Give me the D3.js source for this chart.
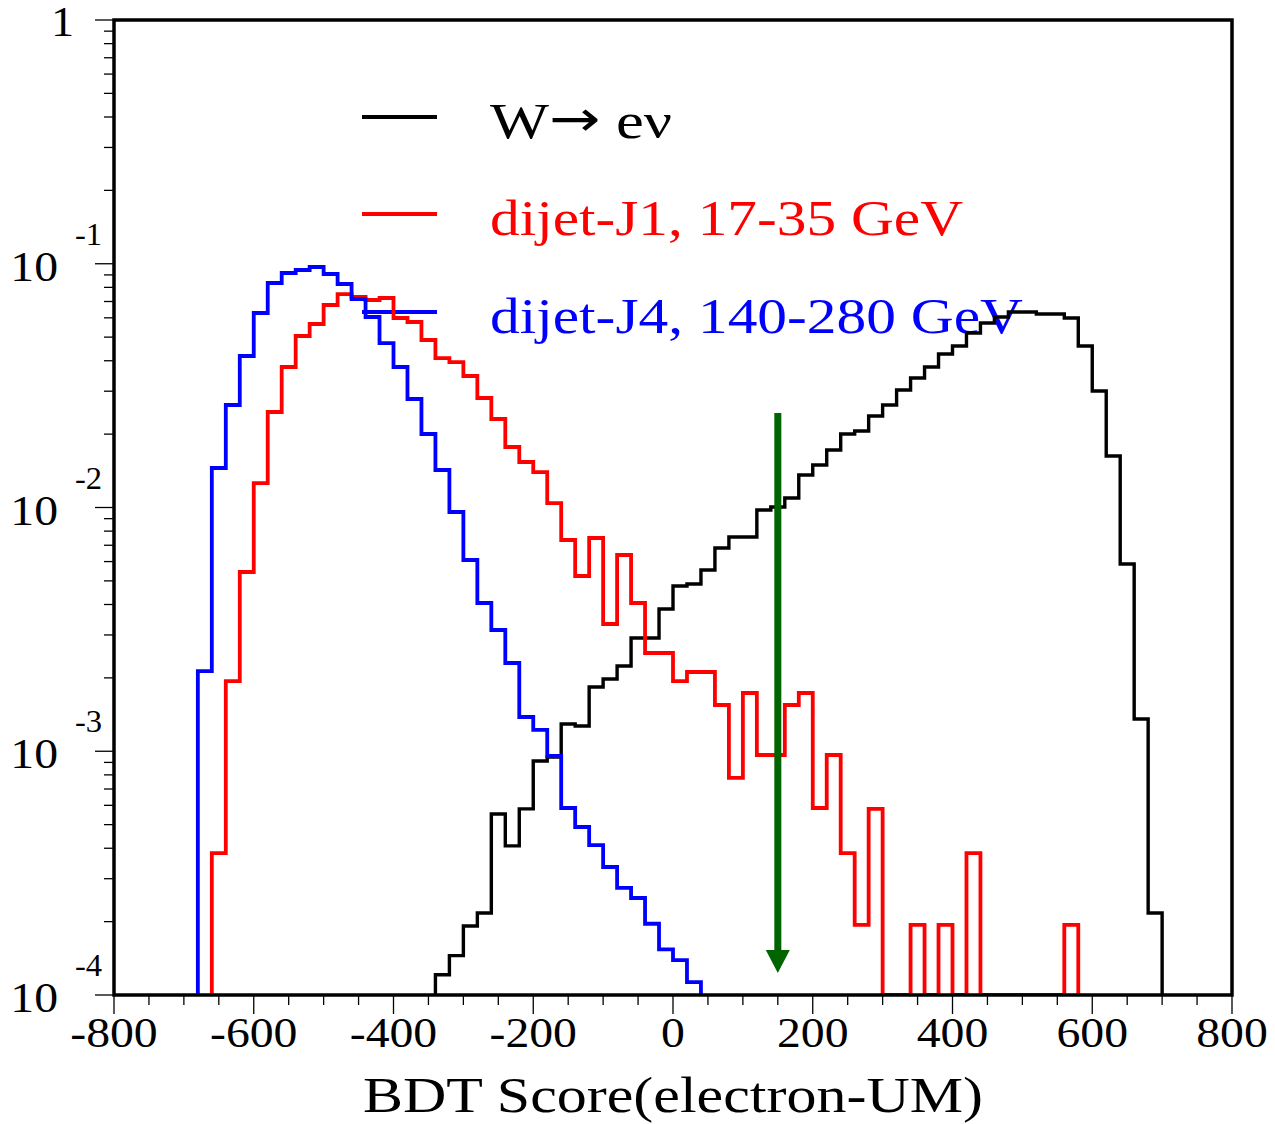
<!DOCTYPE html>
<html><head><meta charset="utf-8">
<script src="https://cdn.jsdelivr.net/npm/d3@7"></script>
<style>
body{margin:0;background:#fff}
svg{display:block}
text{font-family:"Liberation Serif","Times New Roman",serif}
</style>
</head><body>
<svg id="chart" width="1275" height="1124"></svg>
<script>
// ---------- data ----------
const binWidth = 20;

const wStart = -340;   // W -> e nu
const wValues = [0.000121,0.000145,0.000192,0.000217,0.000553,0.000409,0.000580,0.000912,0.000947,0.001294,
  0.001269,0.001835,0.001979,0.002237,0.002914,0.002914,0.003834,0.004763,0.004855,0.005540,
  0.006820,0.007568,0.007568,0.009766,0.01005,0.01094,0.01359,0.01494,0.01721,0.02002,
  0.02060,0.02373,0.02633,0.03034,0.03399,0.03771,0.04263,0.04599,0.05197,0.05714,
  0.06046,0.06340,0.06340,0.06221,0.06221,0.05990,0.04599,0.03005,0.01627,0.005864,
  0.001356,0.000217];

const j1Start = -660;  // dijet-J1
const j1Values = [0.000382,0.001941,0.005437,0.01260,0.02465,0.03771,0.05053,0.05660,0.06772,0.07510,
  0.07304,0.07100,0.07236,0.05990,0.05768,0.04866,0.04104,0.03952,0.03463,0.02813,
  0.02307,0.01771,0.01537,0.01398,0.01043,0.007356,0.005236,0.007497,0.003327,0.006385,
  0.004057,0.002530,0.002530,0.001941,0.002114,0.002114,0.001548,0.000777,0.001734,0.000965,
  0.000965,0.001548,0.001734,0.000585,0.000965,0.000382,0.000194,0.000580,0,0,
  0.000194,0,0.000194,0,0.000382,0,0,0,0,0,
  0,0.000194];

const j4Start = -680;  // dijet-J4
const j4Values = [0.002133,0.01452,0.02633,0.04183,0.06281,0.08337,0.09162,0.09428,0.09698,0.09076,
  0.08258,0.07166,0.06046,0.04729,0.03771,0.02787,0.02002,0.01425,0.009583,0.006090,
  0.004057,0.003144,0.002302,0.001382,0.001223,0.000956,0.000585,0.000489,0.000412,0.000335,
  0.000275,0.000250,0.000196,0.000154,0.000139,0.000113];

const xTicks = [-800,-600,-400,-200,0,200,400,600,800];
const xMinorStep = 50;
const yTickExponents = [0,-1,-2,-3,-4];
const seriesLabels = ["dijet-J1, 17-35 GeV", "dijet-J4, 140-280 GeV"];
const wLabelParts = ["W", "\u2192", " e\u03bd"];
const xTitle = "BDT Score(electron-UM)";
const cutValue = 150, arrowTopValue = 0.02442, arrowTipValue = 0.0001231;

// ---------- layout ----------
const svg = d3.select("#chart");
const L = 114, R = 1232, T = 20, B = 995;
const x = d3.scaleLinear().domain([-800, 800]).range([L, R]);
const y = d3.scaleLog().domain([1e-4, 1]).range([B, T]).clamp(true);
const yMin = 1e-4;

svg.append("defs").append("clipPath").attr("id", "plotClip")
  .append("rect").attr("x", L).attr("y", T).attr("width", R - L).attr("height", B - T);

function stretch(sel, f){
  sel.each(function(){
    const w = this.getComputedTextLength();
    d3.select(this).attr("textLength", w * f).attr("lengthAdjust", "spacingAndGlyphs");
  });
}

// legend
const lg = svg.append("g");
const legendLines = [
  {color: "#000000", ly: 117},
  {color: "#ff0000", ly: 214},
  {color: "#0000ff", ly: 312}
];
legendLines.forEach(r => {
  lg.append("line").attr("x1", 362).attr("x2", 437).attr("y1", r.ly).attr("y2", r.ly)
    .attr("stroke", r.color).attr("stroke-width", 4);
});
const wt = lg.append("text").attr("x", 490).attr("y", 138).attr("font-size", 51).attr("fill", "#000")
  .attr("textLength", 182).attr("lengthAdjust", "spacingAndGlyphs");
wt.append("tspan").text(wLabelParts[0]);
wt.append("tspan").attr("font-family", "DejaVu Sans").attr("font-size", 50).attr("dy", -2).text(wLabelParts[1]);
wt.append("tspan").attr("dy", 2).text(wLabelParts[2]);
lg.append("text").attr("x", 490).attr("y", 235).attr("font-size", 51).attr("fill", "#ff0000")
  .attr("textLength", 473).attr("lengthAdjust", "spacingAndGlyphs").text(seriesLabels[0]);
lg.append("text").attr("x", 490).attr("y", 333).attr("font-size", 51).attr("fill", "#0000ff")
  .attr("textLength", 533).attr("lengthAdjust", "spacingAndGlyphs").text(seriesLabels[1]);

// histograms
function stepPoints(start, values){
  const pts = [[start, yMin]];
  values.forEach((v, i) => {
    const x0 = start + i * binWidth;
    const vv = Math.max(v, yMin);
    pts.push([x0, vv]); pts.push([x0 + binWidth, vv]);
  });
  pts.push([start + values.length * binWidth, yMin]);
  return pts;
}
const line = d3.line().x(d => x(d[0])).y(d => y(d[1]));
const hists = [
  {start: wStart, values: wValues, color: "#000000", w: 3.4},
  {start: j1Start, values: j1Values, color: "#ff0000", w: 3.8},
  {start: j4Start, values: j4Values, color: "#0000ff", w: 3.8}
];
const hg = svg.append("g").attr("clip-path", "url(#plotClip)");
hists.forEach(h => {
  hg.append("path").attr("d", line(stepPoints(h.start, h.values)))
    .attr("fill", "none").attr("stroke", h.color).attr("stroke-width", h.w)
    .attr("stroke-linejoin", "miter");
});

// arrow
const ax = x(cutValue), aTop = y(arrowTopValue), aTip = y(arrowTipValue);
const headLen = 23, headHalf = 12;
svg.append("line").attr("x1", ax).attr("x2", ax).attr("y1", aTop).attr("y2", aTip - headLen + 2)
  .attr("stroke", "#006400").attr("stroke-width", 7);
svg.append("path")
  .attr("d", `M${ax - headHalf},${aTip - headLen} L${ax + headHalf},${aTip - headLen} L${ax},${aTip} Z`)
  .attr("fill", "#006400");

// x ticks
const xMinor = d3.range(-800, 800 + 1, xMinorStep).filter(v => !xTicks.includes(v));
svg.append("g").selectAll("line").data(xMinor).join("line")
  .attr("x1", d => x(d)).attr("x2", d => x(d)).attr("y1", B).attr("y2", B + 10)
  .attr("stroke", "#000").attr("stroke-width", 1.3);
svg.append("g").selectAll("line").data(xTicks).join("line")
  .attr("x1", d => x(d)).attr("x2", d => x(d)).attr("y1", B).attr("y2", B + 19)
  .attr("stroke", "#000").attr("stroke-width", 1.3);
const xl = svg.append("g").selectAll("text").data(xTicks).join("text")
  .attr("x", d => x(d)).attr("y", 1047).attr("text-anchor", "middle")
  .attr("font-size", 43).text(d => String(d));
stretch(xl, 1.11);

// y ticks
const yMinorVals = [];
for (let e = -4; e < 0; e++) for (let m = 2; m <= 9; m++) yMinorVals.push(m * Math.pow(10, e));
svg.append("g").selectAll("line").data(yMinorVals).join("line")
  .attr("x1", L - 10).attr("x2", L).attr("y1", d => y(d)).attr("y2", d => y(d))
  .attr("stroke", "#000").attr("stroke-width", 1.3);
svg.append("g").selectAll("line").data(yTickExponents).join("line")
  .attr("x1", L - 19).attr("x2", L).attr("y1", d => y(Math.pow(10, d))).attr("y2", d => y(Math.pow(10, d)))
  .attr("stroke", "#000").attr("stroke-width", 1.3);
yTickExponents.forEach(e => {
  const ty = y(Math.pow(10, e));
  if (e === 0) {
    const t = svg.append("text").attr("x", 51).attr("y", ty + 16).attr("font-size", 42).text("1");
    stretch(t, 1.1);
  } else {
    const t = svg.append("text").attr("x", 58).attr("y", ty + 17).attr("text-anchor", "end")
      .attr("font-size", 43).text("10");
    stretch(t, 1.11);
    const s = svg.append("text").attr("x", 75).attr("y", ty - 19).attr("font-size", 31).text(String(e));
    stretch(s, 1.05);
  }
});

// frame
svg.append("rect").attr("x", L).attr("y", T).attr("width", R - L).attr("height", B - T)
  .attr("fill", "none").attr("stroke", "#000").attr("stroke-width", 3.5);

// x title
svg.append("text").attr("x", 363).attr("y", 1112).attr("font-size", 50)
  .attr("textLength", 620).attr("lengthAdjust", "spacingAndGlyphs").text(xTitle);
</script>
</body></html>
